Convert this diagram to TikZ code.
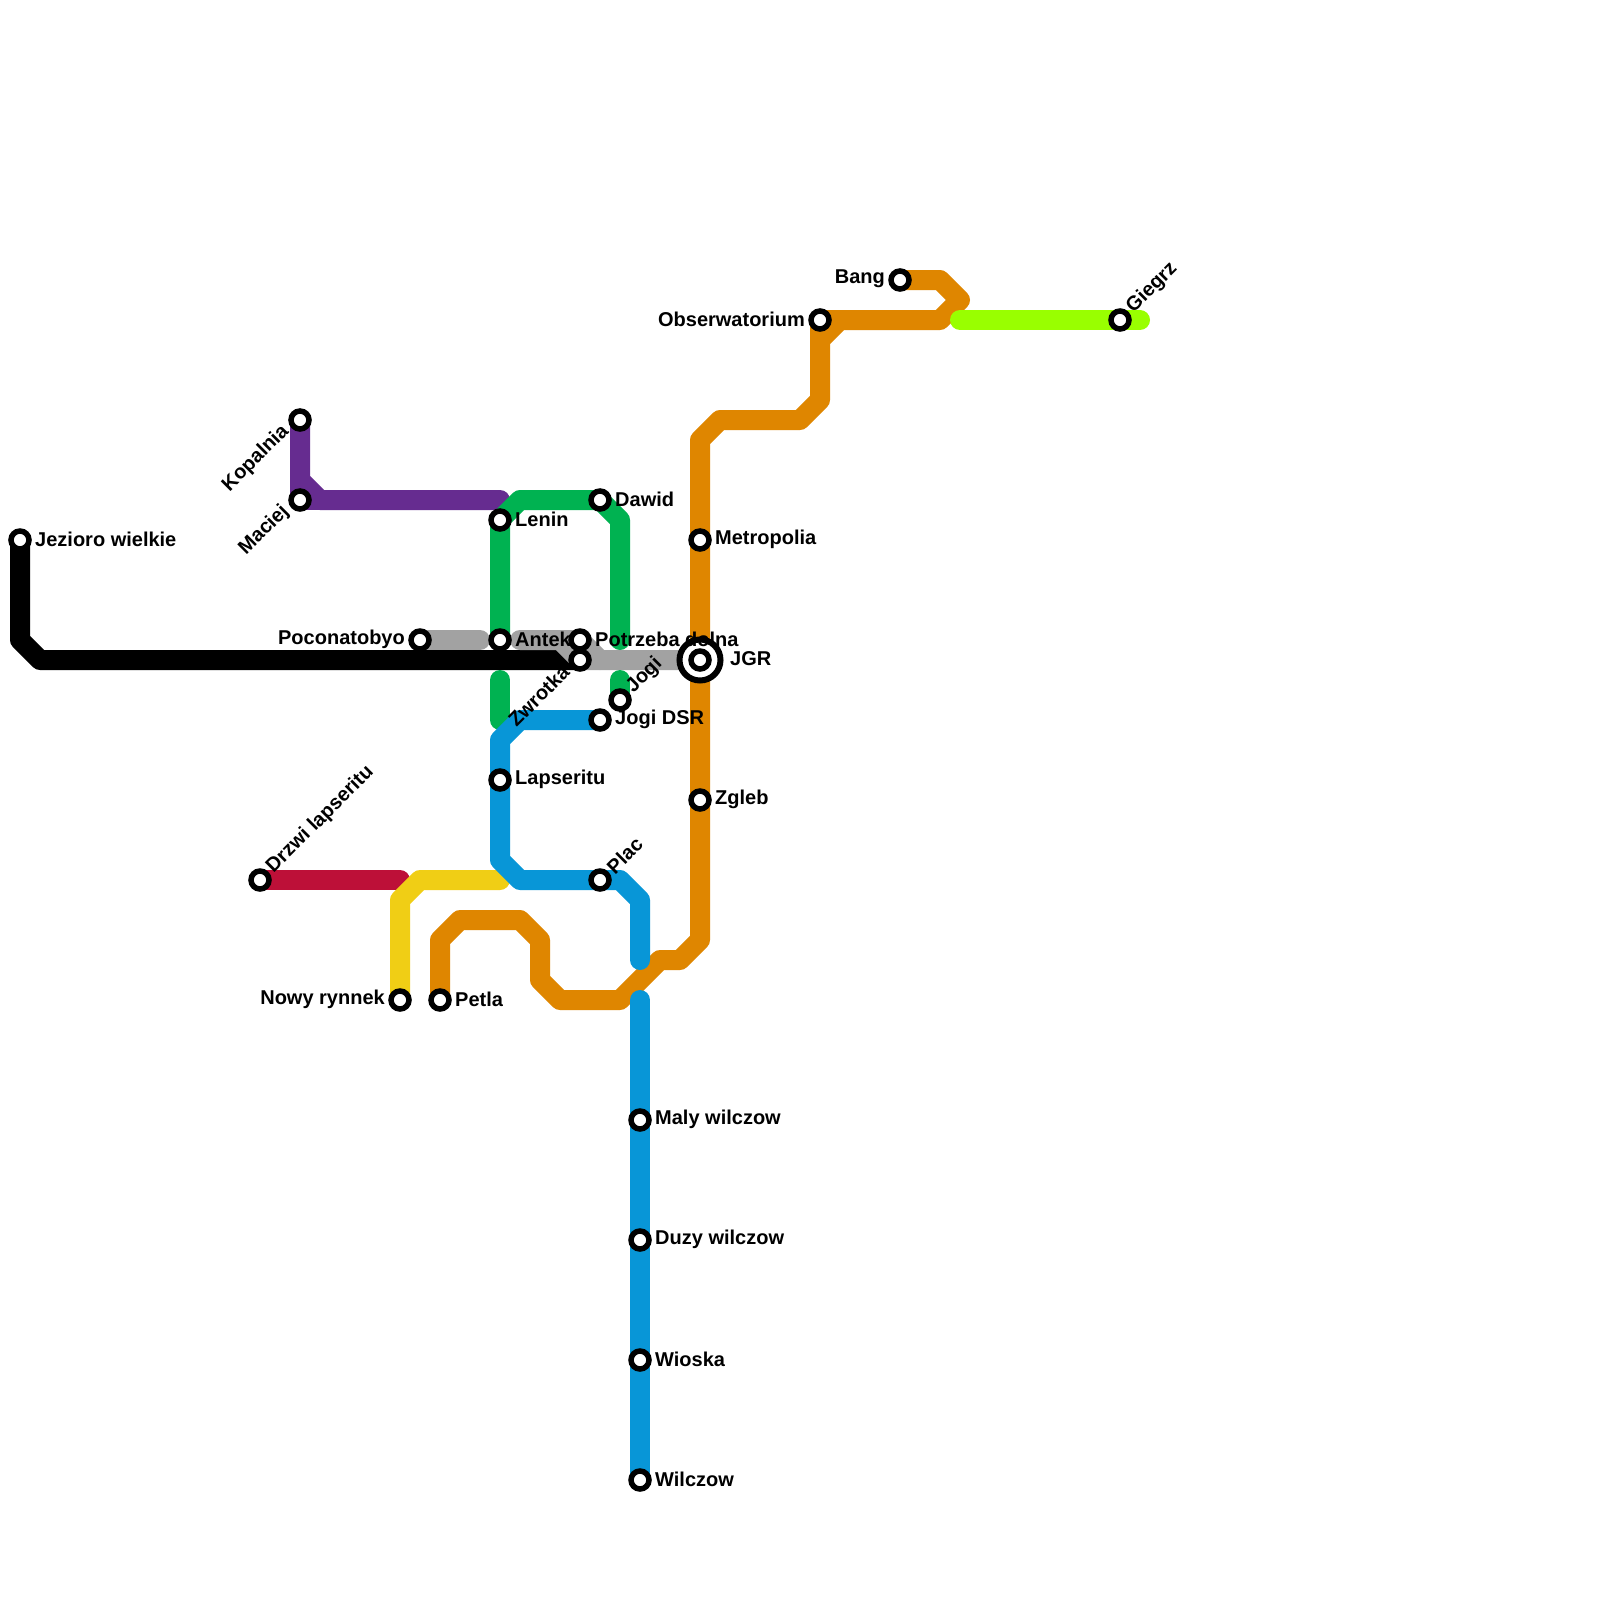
\documentclass[tikz,border=0pt]{standalone}
\usepackage{fontspec}
\setmainfont{Liberation Sans}
\usetikzlibrary{backgrounds}
\definecolor{lgrey}{HTML}{A2A2A2}
\definecolor{lgreen}{HTML}{00B251}
\definecolor{lblue}{HTML}{0896D7}
\definecolor{lorange}{HTML}{DF8600}
\definecolor{lpurple}{HTML}{662C90}
\definecolor{lred}{HTML}{BD1038}
\definecolor{lyellow}{HTML}{F0CE15}
\definecolor{llime}{HTML}{99FF00}
\tikzset{
  metro/.style={line width=20pt,line cap=round,line join=round},
  station/.style={circle,draw=black,fill=white,line width=5.5pt,minimum size=18pt,inner sep=0pt},
  bigring/.style={circle,draw=black,fill=white,line width=6pt,minimum size=41pt,inner sep=0pt},
  txt/.style={font=\fontsize{20}{22}\bfseries\selectfont,inner sep=0pt,text=black},
  lblr/.style={txt,anchor=west,xshift=15pt,yshift=1pt},
  lbll/.style={txt,anchor=east,xshift=-15pt,yshift=1pt},
  lblur/.style={txt,rotate=45,anchor=west,xshift=14pt,yshift=0pt},
  lbldl/.style={txt,rotate=45,anchor=east,xshift=-16pt,yshift=4pt},
}
\begin{document}
\begin{tikzpicture}[x=1pt,y=-1pt]
\useasboundingbox (0,0) rectangle (1600,1600);
% stations
\node[bigring] (jgrring) at (700,660) {};
\foreach \n/\x/\y in {jezioro/20/540,kopalnia/300/420,maciej/300/500,lenin/500/520,dawid/600/500,
  poconatobyo/420/640,antek/500/640,potrzeba/580/640,zwrotka/580/660,jgr/700/660,jogi/620/700,
  jogidsr/600/720,lapseritu/500/780,metropolia/700/540,zgleb/700/800,drzwi/260/880,plac/600/880,
  nowy/400/1000,petla/440/1000,maly/640/1120,duzy/640/1240,wioska/640/1360,wilczow/640/1480,
  obserw/820/320,bang/900/280,giegrz/1120/320}
  \node[station] (\n) at (\x,\y) {};
% lines
\begin{pgfonlayer}{background}
\fill[white] (0,0) rectangle (1600,1600);
\draw[metro,lred] (drzwi.center) -- (400,880);
\draw[metro,lyellow] (nowy.center) -- (400,900) -- (420,880) -- (500,880);
\draw[metro,lpurple] (kopalnia.center) -- (300,480) -- (320,500) -- (500,500);
\draw[metro,lpurple] (320,500) -- (maciej.center) -- (300,480);
\draw[metro,black] (jezioro.center) -- (20,640) -- (40,660) -- (zwrotka.center);
\draw[metro,lgrey] (poconatobyo.center) -- (480,640);
\draw[metro,lgrey] (520,640) -- (560,640) -- (zwrotka.center) -- (jgr.center);
\draw[metro,lgrey] (560,640) -- (potrzeba.center) -- (600,660);
\draw[metro,lorange] (petla.center) -- (440,940) -- (460,920) -- (520,920) -- (540,940) -- (540,980) -- (560,1000) -- (620,1000) -- (660,960) -- (680,960) -- (700,940) -- (zgleb.center) -- (jgr.center) -- (metropolia.center) -- (700,440) -- (720,420) -- (800,420) -- (820,400) -- (820,340) -- (840,320) -- (940,320) -- (960,300) -- (940,280) -- (bang.center);
\draw[metro,lorange] (840,320) -- (obserw.center) -- (820,340);
\draw[metro,lgreen] (antek.center) -- (lenin.center) -- (520,500) -- (dawid.center) -- (620,520) -- (620,640);
\draw[metro,lgreen] (500,680) -- (500,720);
\draw[metro,lgreen] (620,680) -- (jogi.center);
\draw[metro,lblue] (jogidsr.center) -- (520,720) -- (500,740) -- (lapseritu.center) -- (500,860) -- (520,880) -- (plac.center) -- (620,880) -- (640,900) -- (640,960);
\draw[metro,lblue] (640,1000) -- (maly.center) -- (duzy.center) -- (wioska.center) -- (wilczow.center);
\draw[metro,llime] (960,320) -- (giegrz.center) -- (1140,320);
\end{pgfonlayer}
% labels
\node[lblr] (t1) at (jezioro) {Jezioro wielkie};
\node[lbldl] (t2) at (kopalnia) {Kopalnia};
\node[lbldl] (t3) at (maciej) {Maciej};
\node[lblr] (t4) at (lenin) {Lenin};
\node[lblr] (t5) at (dawid) {Dawid};
\node[lbll] (t6) at (poconatobyo) {Poconatobyo};
\node[lblr] (t7) at (antek) {Antek};
\node[lblr] (t8) at (potrzeba) {Potrzeba dolna};
\node[lbldl] (t9) at (zwrotka) {Zwrotka};
\node[lblr,xshift=15pt] (t10) at (jgr) {JGR};
\node[lblur] (t11) at (jogi) {Jogi};
\node[lblr] (t12) at (jogidsr) {Jogi DSR};
\node[lblr] (t13) at (lapseritu) {Lapseritu};
\node[lblr] (t14) at (metropolia) {Metropolia};
\node[lblr] (t15) at (zgleb) {Zgleb};
\node[lblur] (t16) at (drzwi) {Drzwi lapseritu};
\node[lblur] (t17) at (plac) {Plac};
\node[lbll] (t18) at (nowy) {Nowy rynnek};
\node[lblr] (t19) at (petla) {Petla};
\node[lblr] (t20) at (maly) {Maly wilczow};
\node[lblr] (t21) at (duzy) {Duzy wilczow};
\node[lblr] (t22) at (wioska) {Wioska};
\node[lblr] (t23) at (wilczow) {Wilczow};
\node[lbll] (t24) at (obserw) {Obserwatorium};
\node[lbll] (t25) at (bang) {Bang};
\node[lblur] (t26) at (giegrz) {Giegrz};
\end{tikzpicture}
\end{document}
